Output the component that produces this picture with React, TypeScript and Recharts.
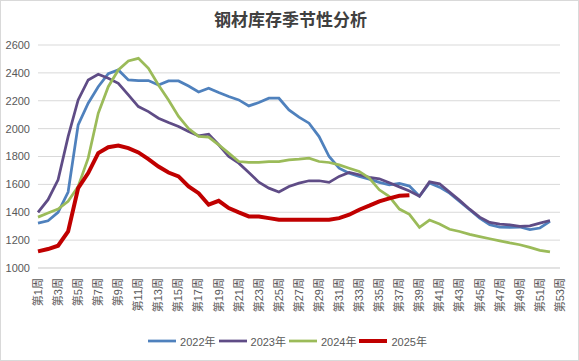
import React from "react";
import { LineChart, Line, XAxis, YAxis, CartesianGrid, Legend } from "recharts";

const weeks = [
  "第1周","第2周","第3周","第4周","第5周","第6周","第7周","第8周","第9周","第10周",
  "第11周","第12周","第13周","第14周","第15周","第16周","第17周","第18周","第19周","第20周",
  "第21周","第22周","第23周","第24周","第25周","第26周","第27周","第28周","第29周","第30周",
  "第31周","第32周","第33周","第34周","第35周","第36周","第37周","第38周","第39周","第40周",
  "第41周","第42周","第43周","第44周","第45周","第46周","第47周","第48周","第49周","第50周",
  "第51周","第52周","第53周",
];

const y2022 = [1322,1339,1399,1545,2027,2182,2301,2394,2421,2349,2345,2345,2313,2342,2342,2306,2263,2290,2259,2230,2206,2163,2187,2218,2218,2134,2082,2039,1943,1800,1716,1680,1657,1638,1614,1597,1607,1588,1515,1610,1580,1537,1478,1418,1358,1310,1294,1291,1294,1275,1287,1334,null];
const y2023 = [1399,1490,1633,1943,2206,2349,2390,2361,2325,2242,2158,2122,2075,2044,2015,1979,1948,1960,1884,1800,1752,1685,1616,1573,1545,1585,1609,1626,1626,1614,1657,1685,1669,1650,1640,1612,1582,1552,1515,1618,1604,1544,1485,1422,1365,1327,1315,1310,1298,1303,1322,1341,null];
const y2024 = [1365,1394,1423,1478,1585,1788,2110,2301,2421,2485,2504,2433,2313,2206,2087,2000,1945,1939,1884,1824,1764,1757,1757,1764,1764,1776,1781,1788,1764,1757,1740,1716,1693,1645,1561,1512,1423,1385,1292,1344,1316,1278,1262,1241,1225,1210,1195,1180,1167,1148,1127,1115,null];
const y2025 = [1119,1136,1160,1263,1573,1681,1824,1867,1879,1860,1829,1781,1728,1685,1657,1585,1537,1454,1482,1430,1399,1370,1370,1358,1346,1346,1346,1346,1346,1346,1358,1382,1418,1447,1478,1500,1518,1522,null,null,null,null,null,null,null,null,null,null,null,null,null,null,null];

const yTicks = [1000, 1200, 1400, 1600, 1800, 2000, 2200, 2400, 2600];

const seriesNames = ["2022年", "2023年", "2024年", "2025年"];
const seriesColors = ["#4F81BD", "#5F4C86", "#9BBB59", "#C00000"];
const seriesWidths = [2.75, 2.75, 2.75, 4];

const data = weeks.map((w, i) => ({
  week: w,
  s0: y2022[i],
  s1: y2023[i],
  s2: y2024[i],
  s3: y2025[i],
}));

const FONT = "'Liberation Sans', 'Noto Sans CJK SC', sans-serif";

const XTick = (props: any) => {
  const { x, y, payload } = props;
  return (
    <text
      x={0}
      y={0}
      transform={`translate(${x},${y + 2}) rotate(-90)`}
      textAnchor="end"
      dy="0.35em"
      fill="#595959"
      fontSize={11}
      fontFamily={FONT}
    >
      {payload.value}
    </text>
  );
};

const renderLegend = () => (
  <div
    style={{
      display: "flex",
      justifyContent: "center",
      alignItems: "center",
      fontFamily: FONT,
      fontSize: 11,
      color: "#595959",
      paddingRight: 4,
    }}
  >
    {seriesNames.map((n, i) => (
      <div key={n} style={{ display: "flex", alignItems: "center", marginRight: i < 3 ? 3 : 0 }}>
        <svg width={28} height={8} style={{ marginRight: 4 }}>
          <line x1={0} y1={4} x2={28} y2={4} stroke={seriesColors[i]} strokeWidth={seriesWidths[i]} />
        </svg>
        <span>{n}</span>
      </div>
    ))}
  </div>
);

export default function App() {
  return (
    <div
      style={{
        position: "fixed",
        left: 0,
        top: 0,
        width: 579,
        height: 361,
        boxSizing: "border-box",
        border: "1px solid #d9d9d9",
        background: "#ffffff",
      }}
    >
      <div
        style={{
          position: "absolute",
          left: 0,
          top: 5,
          width: 579,
          textAlign: "center",
          fontFamily: "'Noto Sans CJK SC', sans-serif",
          fontWeight: 700,
          fontSize: 17,
          lineHeight: "26px",
          color: "#404040",
        }}
      >
        钢材库存季节性分析
      </div>
      <div style={{ position: "absolute", left: -1, top: -1 }}>
        <LineChart
          width={579}
          height={361}
          data={data}
          margin={{ top: 45, right: 19, left: 0, bottom: 33 }}
        >
          <CartesianGrid horizontal={true} vertical={false} stroke="#d9d9d9" />
          <XAxis
            dataKey="week"
            height={60}
            interval={1}
            tickLine={false}
            axisLine={{ stroke: "#d9d9d9" }}
            tick={<XTick />}
          />
          <YAxis
            width={38}
            domain={[1000, 2600]}
            ticks={yTicks}
            axisLine={false}
            tickLine={false}
            tick={{ fill: "#595959", fontSize: 11, fontFamily: FONT }}
          />
          <Legend
            layout="vertical"
            verticalAlign="middle"
            align="center"
            wrapperStyle={{ left: 0, top: 333, width: 579, height: 16 }}
            content={renderLegend}
          />
          {["s0", "s1", "s2", "s3"].map((k, i) => (
            <Line
              key={k}
              type="linear"
              dataKey={k}
              name={seriesNames[i]}
              stroke={seriesColors[i]}
              strokeWidth={seriesWidths[i]}
              dot={false}
              activeDot={false}
              connectNulls={false}
              isAnimationActive={false}
            />
          ))}
        </LineChart>
      </div>
    </div>
  );
}
